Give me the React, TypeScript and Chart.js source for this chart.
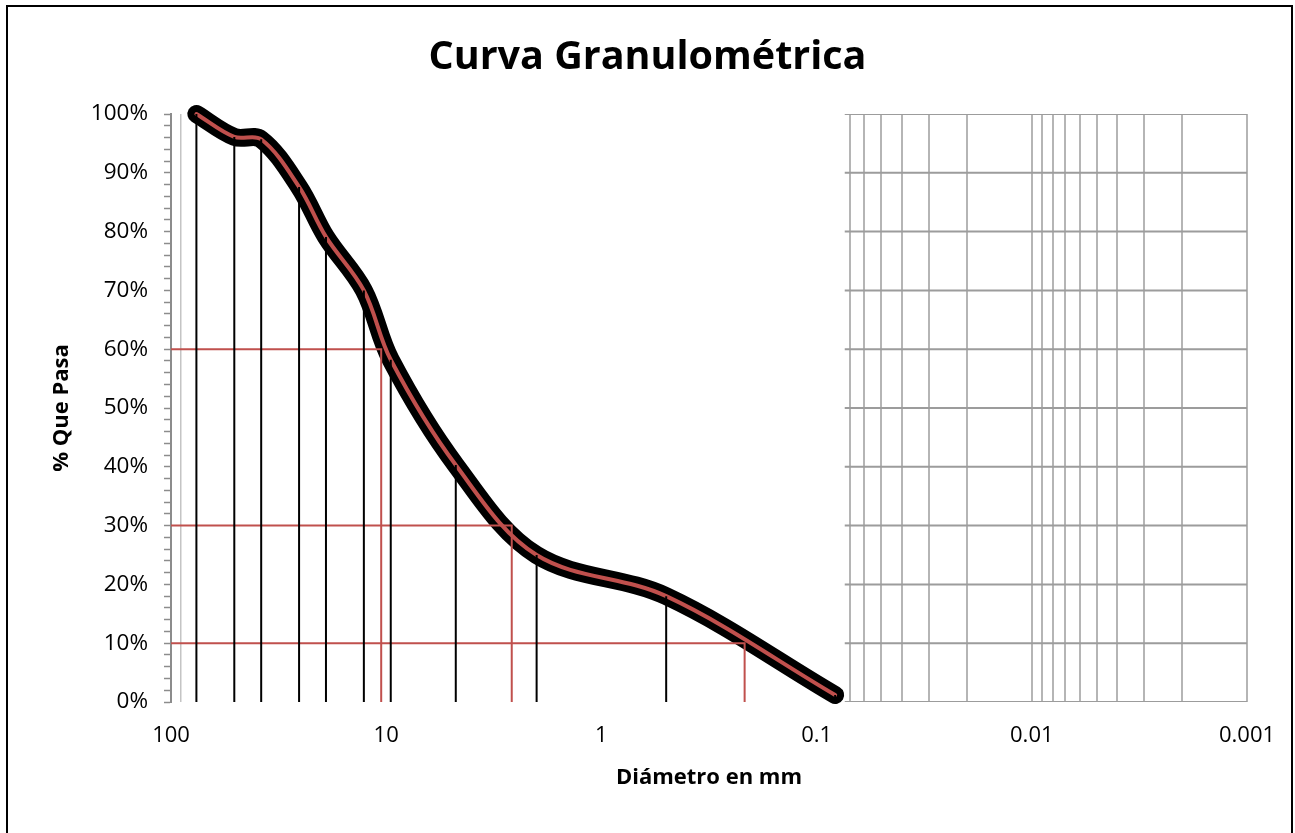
import React, { useEffect, useRef } from 'react';
import { Chart, registerables } from 'chart.js';

Chart.register(...registerables);

const TITLE = 'Curva Granulométrica';
const X_TITLE = 'Diámetro en mm';
const Y_TITLE = '% Que Pasa';

// Sieve openings (mm) and % passing
const SIEVE_MM = [76.2, 50.8, 38.1, 25.4, 19.05, 12.7, 9.525, 4.75, 2.0, 0.5, 0.082];
const PASSING = [100, 96.1, 95.7, 87.6, 79.1, 70.0, 58.2, 40.3, 25.0, 18.0, 1.2];

// Characteristic diameters D60, D30, D10
const D_PERCENT = [60, 30, 10];
const D_MM = [10.55, 2.61, 0.216];

// Axis ticks
const X_DECADES = [100, 10, 1, 0.1, 0.01, 0.001];
const X_TICK_LABELS = ['100', '10', '1', '0.1', '0.01', '0.001'];
const X_MULTIPLIERS = [1, 2, 3, 4, 5, 6, 7, 8, 9];
const Y_TICK_VALUES = [0, 10, 20, 30, 40, 50, 60, 70, 80, 90, 100];
const Y_TICK_LABELS = ['0%', '10%', '20%', '30%', '40%', '50%', '60%', '70%', '80%', '90%', '100%'];
const Y_MINOR_STEP = 2;

// Visible part of the log grid (right part of plot) plus the lone 90 line
const GRID_X_FROM = 0.074;
const GRID_X_END = 0.001;
const GRID_X_EXTRA = [90];

const FONT = 'Open Sans';
const RED = '#c0504d';

function near(a: number, b: number) {
  return Math.abs(Math.log10(a) - Math.log10(b)) < 1e-6;
}

export default function App() {
  const ref = useRef<HTMLCanvasElement | null>(null);

  useEffect(() => {
    if (!ref.current) return;

    const curve = SIEVE_MM.map((x, i) => ({ x, y: PASSING[i] }));

    const drops: any[] = [];
    SIEVE_MM.forEach((x, i) => {
      drops.push({ x, y: 0 }, { x, y: PASSING[i] }, { x, y: null });
    });

    const dLines: any[] = [];
    D_MM.forEach((d, i) => {
      dLines.push({ x: X_DECADES[0], y: D_PERCENT[i] }, { x: d, y: D_PERCENT[i] }, { x: d, y: 0 }, { x: d, y: null });
    });

    const hGrid: any[] = [];
    Y_TICK_VALUES.forEach((v) => {
      hGrid.push({ x: GRID_X_FROM, y: v }, { x: GRID_X_END, y: v }, { x: GRID_X_END, y: null });
    });

    const chart = new Chart(ref.current, {
      type: 'line',
      data: {
        datasets: [
          {
            label: 'drops',
            data: drops,
            borderColor: '#000',
            borderWidth: 2,
            pointRadius: 0,
            tension: 0,
            spanGaps: false,
            order: 0,
          },
          {
            label: 'curve-red',
            data: curve,
            borderColor: RED,
            borderWidth: 4,
            pointRadius: 0,
            tension: 0.35,
            borderCapStyle: 'round',
            borderJoinStyle: 'round',
            clip: false,
            order: 1,
          },
          {
            label: 'd-lines',
            data: dLines,
            borderColor: RED,
            borderWidth: 2,
            pointRadius: 0,
            tension: 0,
            spanGaps: false,
            order: 2,
          },
          {
            label: 'curve-black',
            data: curve,
            borderColor: '#000',
            borderWidth: 18,
            pointRadius: 0,
            tension: 0.35,
            borderCapStyle: 'round',
            borderJoinStyle: 'round',
            clip: false,
            order: 3,
          },
          {
            label: 'h-grid',
            data: hGrid,
            borderColor: '#9c9c9c',
            borderWidth: 2,
            pointRadius: 0,
            tension: 0,
            spanGaps: false,
            order: 10,
          },
        ] as any,
      },
      options: {
        animation: false,
        responsive: false,
        maintainAspectRatio: false,
        layout: { padding: { left: 0, right: 0, top: 0, bottom: 0 } },
        elements: { line: { capBezierPoints: false } },
        plugins: {
          legend: { display: false },
          tooltip: { enabled: false },
          title: {
            display: true,
            text: TITLE,
            color: '#000',
            font: { family: FONT, size: 39.5, weight: 'bold', lineHeight: 1.2 },
            padding: { top: 34.3, bottom: 32.3 },
          },
        },
        scales: {
          x: {
            type: 'logarithmic',
            reverse: true,
            min: X_DECADES[X_DECADES.length - 1],
            max: X_DECADES[0],
            afterBuildTicks: (scale: any) => {
              const ticks: any[] = [];
              X_DECADES.slice(1).forEach((dec) => {
                X_MULTIPLIERS.forEach((m) => ticks.push({ value: parseFloat((m * dec).toPrecision(6)) }));
              });
              ticks.push({ value: X_DECADES[0] });
              ticks.sort((a, b) => a.value - b.value);
              scale.ticks = ticks;
            },
            afterFit: (scale: any) => {
              scale.height = 131;
            },
            border: { display: false },
            grid: {
              drawTicks: false,
              lineWidth: (ctx: any) => (GRID_X_EXTRA.some((e) => near(e, ctx.tick.value)) ? 1.5 : 2),
              color: (ctx: any) => {
                const v = ctx.tick && ctx.tick.value;
                if (v === undefined) return 'rgba(0,0,0,0)';
                if (GRID_X_EXTRA.some((e) => near(e, v))) return '#c4c4c4';
                if (v < GRID_X_FROM) return '#b5b5b5';
                return 'rgba(0,0,0,0)';
              },
            },
            ticks: {
              autoSkip: false,
              maxRotation: 0,
              minRotation: 0,
              padding: 20.3,
              color: '#000',
              font: { family: FONT, size: 22 },
              callback: (value: any) => {
                const i = X_DECADES.findIndex((d) => near(d, Number(value)));
                return i >= 0 ? X_TICK_LABELS[i] : '';
              },
            },
            title: {
              display: true,
              text: X_TITLE,
              color: '#000',
              font: { family: FONT, size: 22, weight: 'bold', lineHeight: 1.2 },
              padding: { top: 0, bottom: 41.8 },
            },
          },
          y: {
            type: 'linear',
            min: Y_TICK_VALUES[0],
            max: Y_TICK_VALUES[Y_TICK_VALUES.length - 1],
            afterFit: (scale: any) => {
              scale.width = 171;
            },
            border: { display: true, color: '#8c8c8c', width: 2 },
            grid: {
              color: 'rgba(0,0,0,0)',
              tickColor: '#8c8c8c',
              tickLength: 7,
              tickWidth: 1.5,
            },
            ticks: {
              stepSize: Y_MINOR_STEP,
              maxTicksLimit: 200,
              autoSkip: false,
              padding: 16,
              color: '#000',
              font: { family: FONT, size: 22.5 },
              callback: (value: any) => {
                const i = Y_TICK_VALUES.findIndex((t) => Math.abs(t - Number(value)) < 1e-6);
                return i >= 0 ? Y_TICK_LABELS[i] : '';
              },
            },
            title: {
              display: true,
              text: Y_TITLE,
              color: '#000',
              font: { family: FONT, size: 22, weight: 'bold', lineHeight: 1.2 },
              padding: { top: 48.8, bottom: 0 },
            },
          },
          yRight: {
            type: 'linear',
            position: 'right',
            min: 0,
            max: 100,
            afterFit: (scale: any) => {
              scale.width = 48;
            },
            border: { display: false },
            grid: { display: false },
            ticks: { display: false },
          },
        },
      } as any,
    });

    return () => chart.destroy();
  }, []);

  return (
    <div style={{ position: 'absolute', left: 0, top: 0, width: 1295, height: 833, overflow: 'hidden', background: '#fff' }}>
      <canvas ref={ref} width={1295} height={833} style={{ display: 'block', width: 1295, height: 833 }} />
      <div
        style={{
          position: 'absolute',
          left: 6,
          top: 5,
          width: 1283,
          height: 860,
          border: '2px solid #000',
          pointerEvents: 'none',
        }}
      />
    </div>
  );
}
